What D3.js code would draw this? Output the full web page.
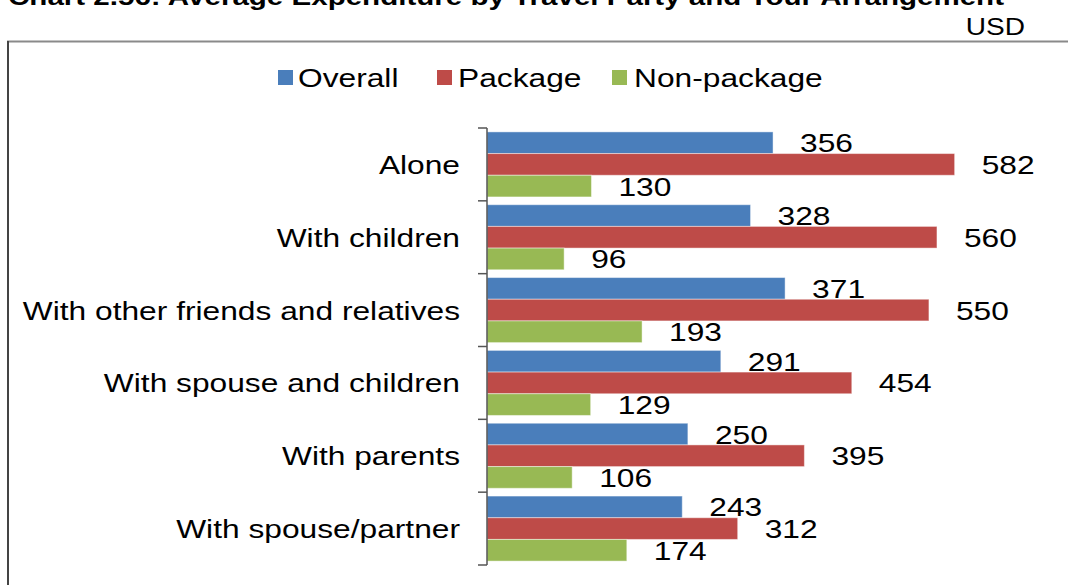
<!DOCTYPE html>
<html>
<head>
<meta charset="utf-8">
<script src="https://cdn.jsdelivr.net/npm/d3@7"></script>
<style>
  html, body { margin: 0; padding: 0; background: #fff; }
  svg { display: block; }
  text { font-family: "Liberation Sans", Arial, Helvetica, sans-serif; fill: #000; }
</style>
</head>
<body>
<svg id="chart" width="1068" height="585"></svg>
<script>
const categories = ["Alone", "With children", "With other friends and relatives", "With spouse and children", "With parents", "With spouse/partner"];
const seriesNames = ["Overall", "Package", "Non-package"];
const overall = [356, 328, 371, 291, 250, 243];
const pkg = [582, 560, 550, 454, 395, 312];
const nonPkg = [130, 96, 193, 129, 106, 174];
const colors = ["#4a7ebb", "#be4b48", "#98b954"];
const titleText = "Chart 2.56: Average Expenditure by Travel Party and Tour Arrangement";
const unitText = "USD";

const series = [overall, pkg, nonPkg];
const SX = 1.22; // horizontal stretch of the original raster

const svg = d3.select("#chart");

function stext(g, x, y, str, size, anchor, weight) {
  return g.append("text")
    .attr("transform", `translate(${x},${y}) scale(${SX},1)`)
    .attr("text-anchor", anchor || "start")
    .attr("font-size", size)
    .attr("font-weight", weight || "normal")
    .text(str);
}

// Title (cut off at top, as in the reference)
svg.append("text")
  .attr("x", 8).attr("y", 5)
  .attr("font-size", 23).attr("font-weight", "bold")
  .attr("textLength", 996).attr("lengthAdjust", "spacingAndGlyphs")
  .text(titleText);

stext(svg, 1025, 35, unitText, 23, "end");

// Chart border
svg.append("rect")
  .attr("x", 8).attr("y", 41.5).attr("width", 1080).attr("height", 600)
  .attr("fill", "none").attr("stroke", "#8a8a8a").attr("stroke-width", 2);
svg.append("line").attr("x1", 8).attr("x2", 8).attr("y1", 41).attr("y2", 585)
  .attr("stroke", "#444").attr("stroke-width", 2);

// Scales
const x0 = 487;
const x = d3.scaleLinear().domain([0, 100]).range([x0, x0 + 80.35]);
const y = d3.scaleBand().domain(categories).range([128, 565]).paddingInner(0.107).paddingOuter(0.0535);
const yInner = d3.scaleBand().domain(seriesNames).range([0, y.bandwidth()]);

// Bars
const g = svg.append("g");
seriesNames.forEach((s, si) => {
  g.selectAll(".bar" + si)
    .data(categories)
    .join("rect")
    .attr("x", x(0))
    .attr("y", c => y(c) + yInner(s))
    .attr("width", (c, i) => x(series[si][i]) - x(0))
    .attr("height", yInner.bandwidth())
    .attr("fill", colors[si])
    .attr("stroke", "rgba(255,255,255,0.45)")
    .attr("stroke-width", 1);
  categories.forEach((c, i) => {
    stext(g, x(series[si][i]) + 27, y(c) + yInner(s) + yInner.bandwidth() / 2 + 9.5, series[si][i], 26, "start");
  });
});

// Axis with ticks at category boundaries
const bounds = d3.range(categories.length + 1).map(i => 128 + i * (437 / categories.length));
svg.append("line").attr("x1", x0).attr("x2", x0).attr("y1", 128).attr("y2", 565)
  .attr("stroke", "#555").attr("stroke-width", 1.5);
svg.selectAll(".tick").data(bounds).join("line")
  .attr("x1", x0 - 9).attr("x2", x0).attr("y1", d => d).attr("y2", d => d)
  .attr("stroke", "#555").attr("stroke-width", 1.5);

// Category labels
categories.forEach(c => {
  stext(svg, 460, y(c) + y.bandwidth() / 2 + 9.5, c, 26, "end");
});

// Legend
const legendItems = [
  { name: seriesNames[0], sx: 278, tx: 298 },
  { name: seriesNames[1], sx: 437, tx: 458 },
  { name: seriesNames[2], sx: 612, tx: 634 }
];
legendItems.forEach((d, i) => {
  svg.append("rect").attr("x", d.sx).attr("y", 70).attr("width", 15).attr("height", 15).attr("fill", colors[i]);
  stext(svg, d.tx, 87, d.name, 26, "start");
});
</script>
</body>
</html>
